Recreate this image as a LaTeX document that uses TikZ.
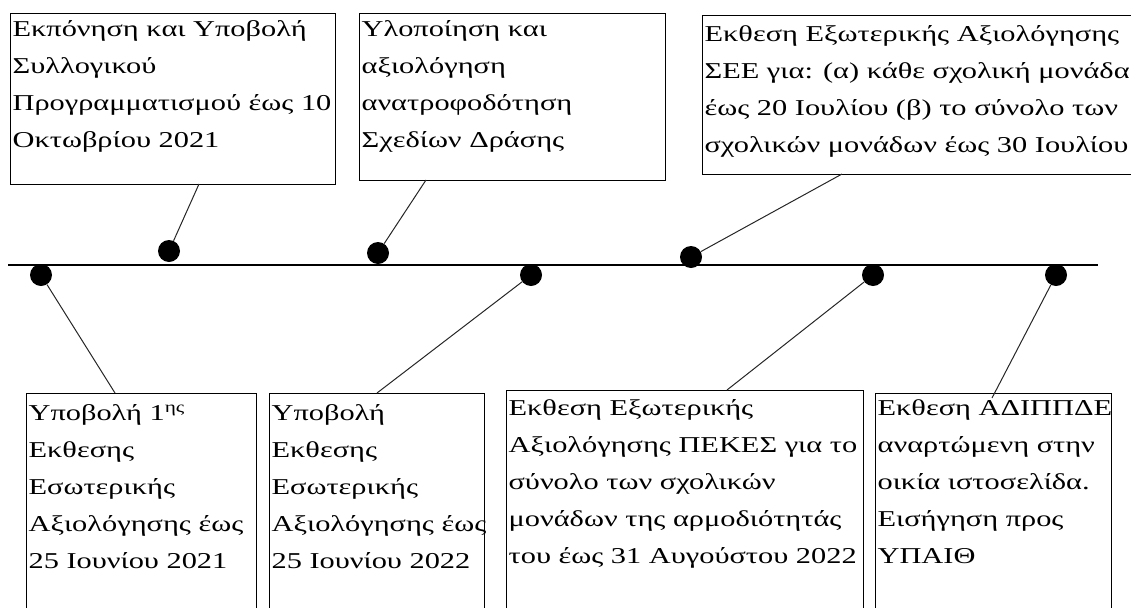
\documentclass[tikz,border=0pt]{standalone}
\usepackage{fontspec}
\setmainfont{Liberation Serif}[FakeStretch=1.34]
\hfuzz=200pt
\newcommand\bx[4]{\begin{minipage}[t][#2][t]{#1}\fontsize{17}{27.75}\selectfont\rule{0pt}{#3}\ignorespaces#4\end{minipage}}
\begin{document}
\begin{tikzpicture}[x=0.75pt,y=-0.75pt,
  boxs/.style={draw, line width=0.9pt, inner xsep=1.5pt, inner ysep=0pt, anchor=north west, rectangle},
  dot/.style={circle, fill=black, minimum size=16.5pt, inner sep=0pt},
  conn/.style={line width=0.75pt, black!85},
  axis/.style={line width=1.8pt}]
\useasboundingbox (0,0) rectangle (1131,607);
\clip (0,0) rectangle (1131,607);
% top boxes
\node[boxs] (t1) at (10,13) {\bx{240.75pt}{128.25pt}{17.25pt}{\mbox{Εκπόνηση και Υποβολή}\\ \mbox{Συλλογικού}\\ \mbox{Προγραμματισμού έως 10}\\ \mbox{Οκτωβρίου 2021}}};
\node[boxs] (t2) at (359,13) {\bx{226.5pt}{125.25pt}{17.25pt}{\mbox{Υλοποίηση και}\\ \mbox{αξιολόγηση}\\ \mbox{ανατροφοδότηση}\\ \mbox{Σχεδίων Δράσης}}};
\node[boxs] (t3) at (702,15) {\bx{325.5pt}{119.25pt}{19.5pt}{\mbox{Εκθεση Εξωτερικής Αξιολόγησης}\\ \mbox{ΣΕΕ για: (α) κάθε σχολική μονάδα}\\ \mbox{έως 20 Ιουλίου (β) το σύνολο των}\\ \mbox{σχολικών μονάδων έως 30 Ιουλίου}}};
% bottom boxes
\node[boxs] (b1) at (26,393) {\bx{169.5pt}{175pt}{20.25pt}{\mbox{Υποβολή 1\textsuperscript{ης}}\\ \mbox{Εκθεσης}\\ \mbox{Εσωτερικής}\\ \mbox{Αξιολόγησης έως}\\ \mbox{25 Ιουνίου 2021}}};
\node[boxs] (b2) at (269,393) {\bx{158.25pt}{175pt}{20.25pt}{\mbox{Υποβολή}\\ \mbox{Εκθεσης}\\ \mbox{Εσωτερικής}\\ \mbox{Αξιολόγησης έως}\\ \mbox{25 Ιουνίου 2022}}};
\node[boxs] (b3) at (506,390) {\bx{264.75pt}{175pt}{18.75pt}{\mbox{Εκθεση Εξωτερικής}\\ \mbox{Αξιολόγησης ΠΕΚΕΣ για το}\\ \mbox{σύνολο των σχολικών}\\ \mbox{μονάδων της αρμοδιότητάς}\\ \mbox{του έως 31 Αυγούστου 2022}}};
\node[boxs] (b4) at (875,393) {\bx{174pt}{175pt}{16.5pt}{\mbox{Εκθεση ΑΔΙΠΠΔΕ}\\ \mbox{αναρτώμενη στην}\\ \mbox{οικία ιστοσελίδα.}\\ \mbox{Εισήγηση προς}\\ \mbox{ΥΠΑΙΘ}}};
% timeline
\coordinate (ls) at (8,265);
\coordinate (le) at (1098,265);
\draw[axis] (ls) -- (le);
% dots
\node[dot] (d1) at (41,275) {};
\node[dot] (d2) at (169,251) {};
\node[dot] (d3) at (378,253) {};
\node[dot] (d4) at (531,275) {};
\node[dot] (d5) at (691,257) {};
\node[dot] (d6) at (873,275) {};
\node[dot] (d7) at (1056,275) {};
% connector end points
\coordinate (c2) at (199,184);
\coordinate (c3) at (426,180);
\coordinate (c5) at (842,174);
\coordinate (c1) at (115,393);
\coordinate (c4) at (377,393);
\coordinate (c6) at (727,390);
\coordinate (c7) at (992,398);
\draw[conn] (c2) -- (d2);
\draw[conn] (c3) -- (d3);
\draw[conn] (c5) -- (d5);
\draw[conn] (d1) -- (c1);
\draw[conn] (d4) -- (c4);
\draw[conn] (d6) -- (c6);
\draw[conn] (d7) -- (c7);
\end{tikzpicture}
\end{document}
